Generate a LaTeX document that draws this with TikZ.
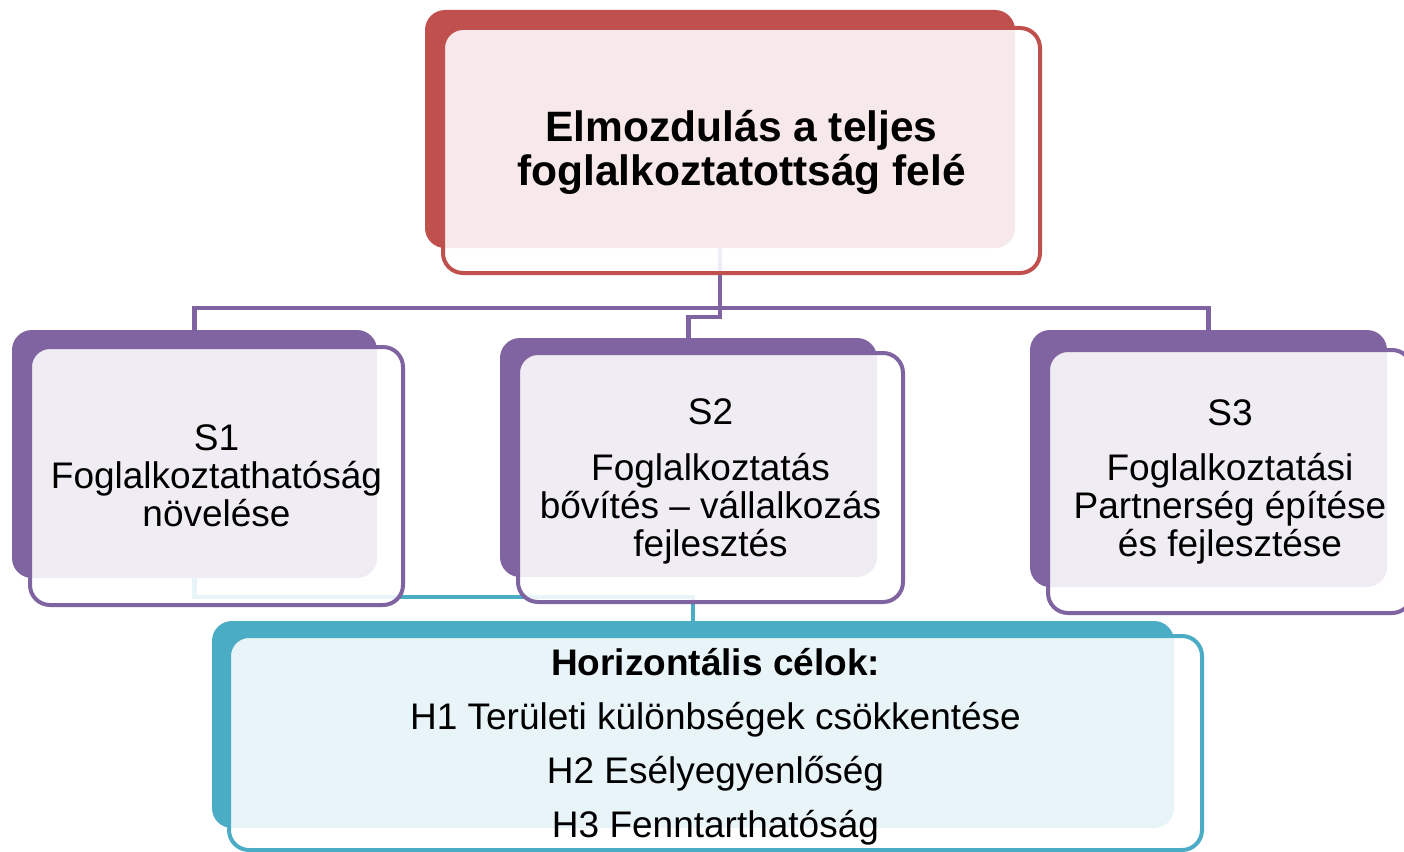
\documentclass[tikz,border=0pt]{standalone}
\usepackage{fontspec}
\setmainfont{Liberation Sans}
\definecolor{cred}{HTML}{C0504D}
\definecolor{cpurple}{HTML}{8064A2}
\definecolor{cteal}{HTML}{4BACC6}
\begin{document}
\begin{tikzpicture}[x=1pt,y=-1pt,
  backbox/.style={rectangle, rounded corners=20pt, inner sep=0pt, fill=#1},
  frontbox/.style={rectangle, rounded corners=20pt, inner sep=0pt, draw=#1, line width=4pt,
    fill=white, fill opacity=0.88, text opacity=1, align=center, text=black,
    font=\fontsize{37}{38}\selectfont},
  conn/.style={line width=4.5pt, draw=#1}]
\fill[white] (0,0) rectangle (1404,851);
\useasboundingbox (0,0) rectangle (1404,851);

% back shapes
\node[backbox=cred, minimum width=590pt, minimum height=238pt] (topB) at (720,129) {};
\node[backbox=cpurple, minimum width=365pt, minimum height=248pt] (s1B) at (194.5,454) {};
\node[backbox=cpurple, minimum width=377pt, minimum height=239pt] (s2B) at (688.5,457.5) {};
\node[backbox=cpurple, minimum width=357pt, minimum height=257pt] (s3B) at (1208.5,458.5) {};
\node[backbox=cteal, minimum width=962pt, minimum height=207pt] (botB) at (693,724.5) {};

% connectors
\draw[conn=cpurple] (topB.south) -- ++(0,60) -| (s1B.north);
\draw[conn=cpurple] (topB.south) -- ++(0,69) -| (s2B.north);
\draw[conn=cpurple] (topB.south) -- ++(0,60) -| (s3B.north);
\draw[conn=cteal] (s1B.south) -- ++(0,19) -| (botB.north);

% front shapes
\node[frontbox=cred, minimum width=597pt, minimum height=245pt,
  font=\bfseries\fontsize{42.5}{44}\selectfont] (topF) at (741.5,150.5)
  {\rule{0pt}{36pt}Elmozdulás a teljes\\foglalkoztatottság felé};
\node[frontbox=cpurple, minimum width=373pt, minimum height=258pt] (s1F) at (216.5,476)
  {S1\\Foglalkoztathatóság\\növelése};
\node[frontbox=cpurple, minimum width=385pt, minimum height=249pt] (s2F) at (710.5,477.5)
  {\rule{0pt}{33pt}S2\\[18pt]Foglalkoztatás\\bővítés – vállalkozás\\fejlesztés};
\node[frontbox=cpurple, minimum width=364pt, minimum height=263pt] (s3F) at (1230,481.5)
  {S3\\[17pt]Foglalkoztatási\\Partnerség építése\\és fejlesztése};
\node[frontbox=cteal, minimum width=973pt, minimum height=214pt,
  font=\fontsize{37}{54}\selectfont] (botF) at (715.5,743)
  {\rule{0pt}{35pt}\textbf{Horizontális célok:}\\H1 Területi különbségek csökkentése\\H2 Esélyegyenlőség\\H3 Fenntarthatóság};
\end{tikzpicture}
\end{document}
